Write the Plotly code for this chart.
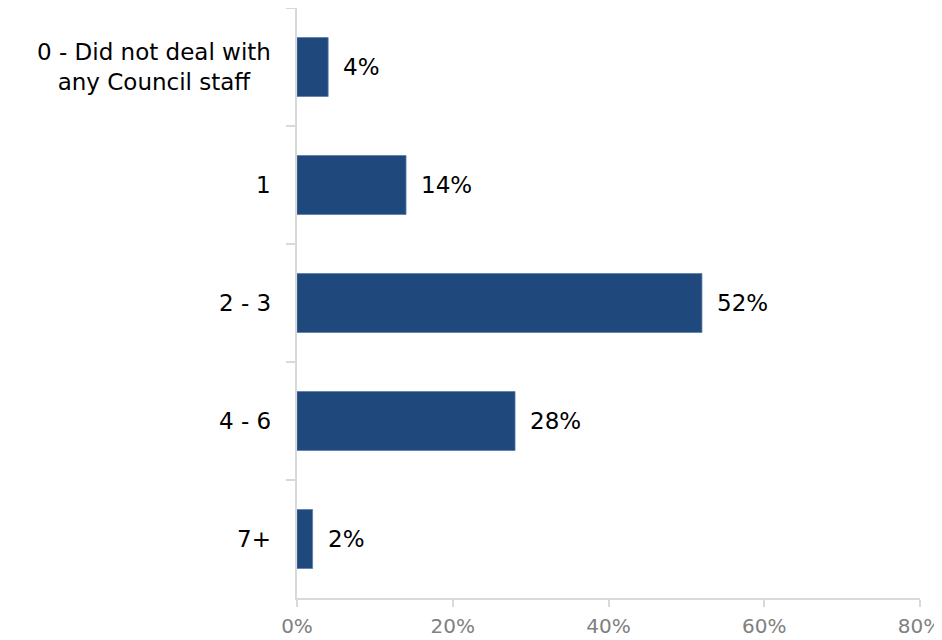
import plotly.graph_objects as go

categories = ["0 - Did not deal with<br>any Council staff", "1", "2 - 3", "4 - 6", "7+"]
values = [4, 14, 52, 28, 2]
x_ticks = [0, 20, 40, 60, 80]
x_tick_labels = ["0%", "20%", "40%", "60%", "80%"]

FONT = "DejaVu Sans"
BAR = "#1f497d"
AXIS = "#d9d9d9"

fig = go.Figure()
fig.add_trace(go.Bar(
    x=values, y=categories, orientation="h",
    marker=dict(color=BAR, line=dict(color="#5a7caa", width=0.8)),
    hoverinfo="skip",
))

for c, v in zip(categories, values):
    fig.add_annotation(x=v, y=c, xref="x", yref="y", text=f"{v}%",
                       showarrow=False, xanchor="left", yanchor="middle",
                       xshift=13, yshift=0,
                       font=dict(family=FONT, size=23, color="#000000"))
    fig.add_annotation(x=0, y=c, xref="paper", yref="y", text=c,
                       showarrow=False, xanchor="right", yanchor="middle",
                       align="center", xshift=-24,
                       font=dict(family=FONT, size=23, color="#000000"))

# page has an 8px body margin, so the figure is sized to the visible area
fig.update_layout(
    width=934, height=632,
    margin=dict(l=289, r=22, t=0, b=42, autoexpand=False),
    paper_bgcolor="white", plot_bgcolor="white",
    bargap=0.5, showlegend=False,
    font=dict(family=FONT, size=23, color="#000000"),
)
fig.update_xaxes(
    range=[0, 80], tickvals=x_ticks, ticktext=x_tick_labels,
    showgrid=False, zeroline=False, showline=True, linecolor=AXIS, linewidth=1.5,
    ticks="outside", ticklen=7, tickcolor=AXIS, tickwidth=1.5, automargin=False,
    ticklabelstandoff=2, ticklabeloverflow="allow",
    tickfont=dict(family=FONT, size=20, color="#808080"),
)
fig.update_yaxes(
    autorange="reversed", showgrid=False, zeroline=False,
    showline=True, linecolor=AXIS, linewidth=1.5, automargin=False,
    ticks="outside", ticklen=9, tickcolor=AXIS, tickwidth=1.5,
    tickson="boundaries", showticklabels=False,
)

fig.write_html("out.html")
